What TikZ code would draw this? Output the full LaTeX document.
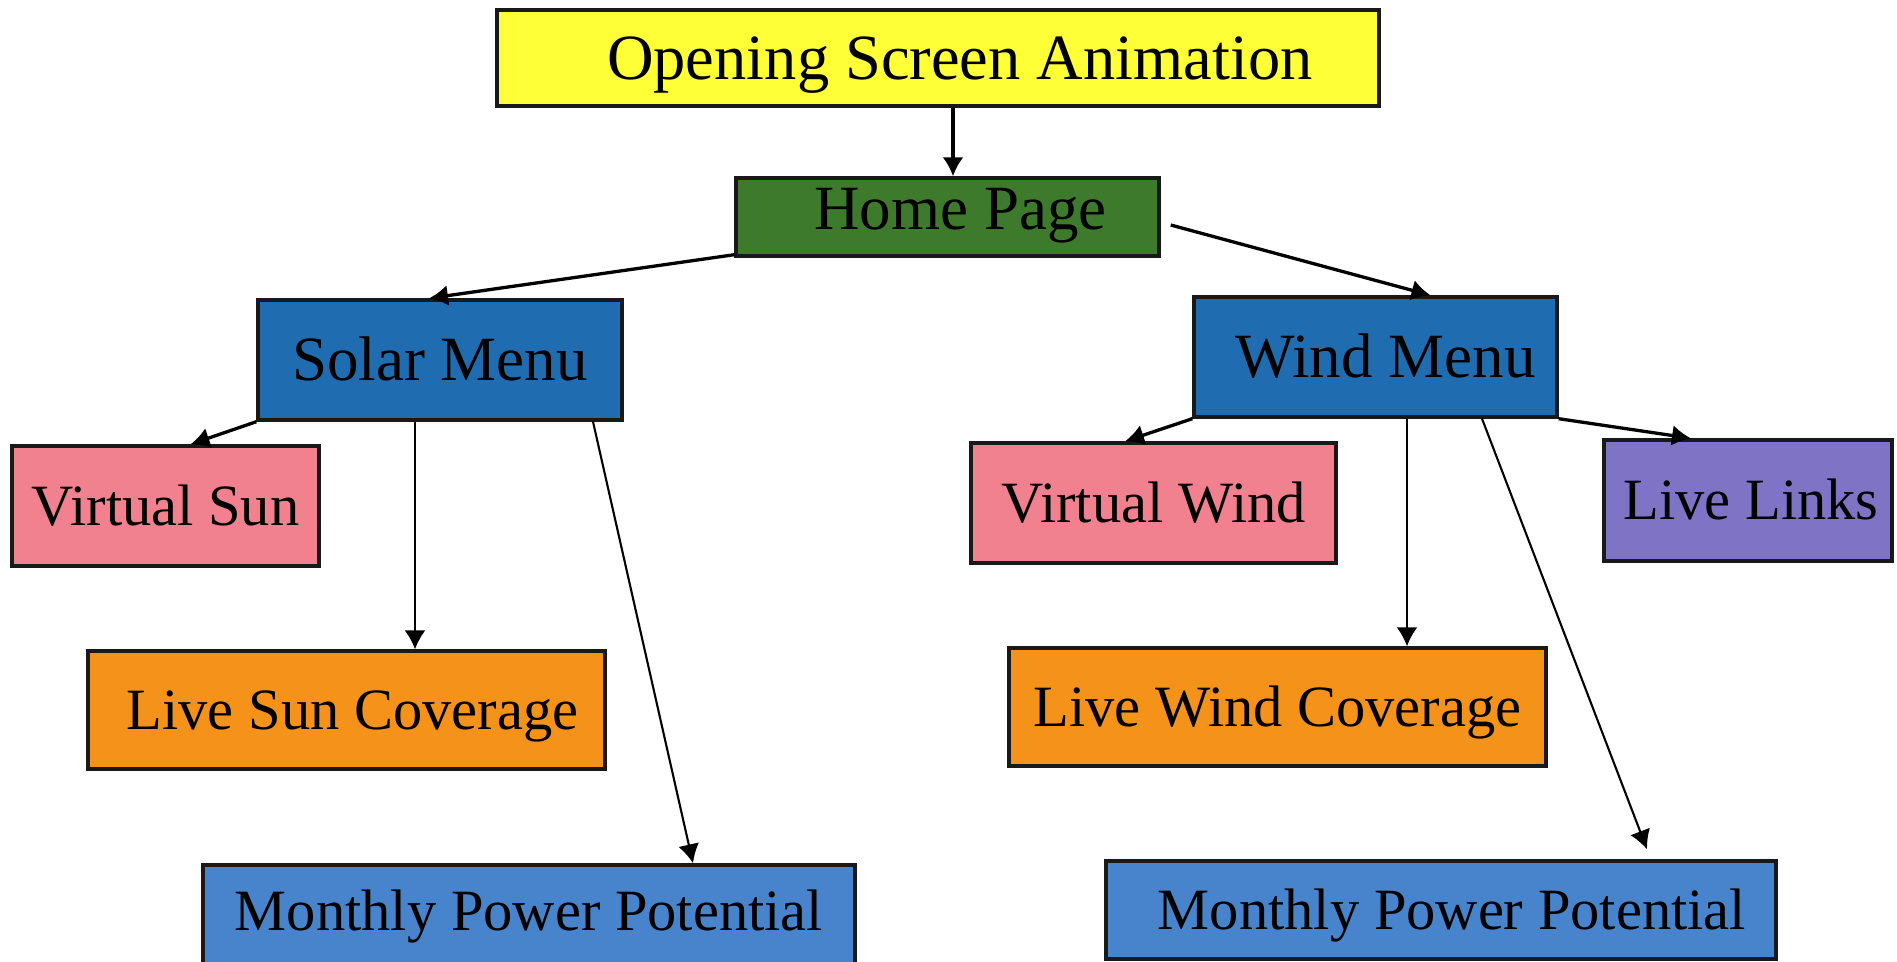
\documentclass[tikz,border=0pt]{standalone}
\usepackage{fontspec}
\setmainfont{Liberation Serif}
\usetikzlibrary{arrows.meta,calc}

\definecolor{opyellow}{RGB}{255,255,56}
\definecolor{homegreen}{RGB}{62,122,44}
\definecolor{menublue}{RGB}{31,109,176}
\definecolor{virtpink}{RGB}{241,129,143}
\definecolor{linkpurple}{RGB}{127,115,198}
\definecolor{liveorange}{RGB}{245,146,26}
\definecolor{powerblue}{RGB}{72,132,204}

\begin{document}
\begin{tikzpicture}[x=1pt,y=-1pt,
  box/.style={draw=black!90, line width=3.4pt, inner sep=0pt,
    font=\fontsize{63}{70}\selectfont, text height=41.7pt, text depth=0pt},
  leaf/.style={box, font=\fontsize{58.5}{64}\selectfont, text height=38.7pt},
  arr/.style={-{Latex[length=19pt,width=21pt]}, line width=3.3pt},
  thin arr/.style={-{Latex[length=19pt,width=21pt]}, line width=2.1pt}]

\useasboundingbox (0,0) rectangle (1897,961);
\clip (0,0) rectangle (1897,961);
\fill[white] (0,0) rectangle (1897,961);

% top of the hierarchy
\node[box, fill=opyellow, minimum width=882pt, minimum height=96pt,
  font=\fontsize{64.5}{70}\selectfont, text height=42.7pt] (op) at (938,58)
  {\kern44pt Opening Screen Animation};
\node[box, fill=homegreen, minimum width=423pt, minimum height=78pt] (home) at (947.5,217)
  {\kern26pt\raisebox{8pt}{Home Page}};

% menus
\node[box, fill=menublue, minimum width=364pt, minimum height=120pt] (solar) at (440,360)
  {Solar Menu};
\node[box, fill=menublue, minimum width=363pt, minimum height=120pt] (wind) at (1375.5,357)
  {\kern20pt Wind Menu};

% solar branch
\node[leaf, fill=virtpink, minimum width=307pt, minimum height=120pt] (vsun) at (165.5,506)
  {Virtual Sun};
\node[leaf, fill=liveorange, minimum width=517pt, minimum height=118pt] (lsun) at (346.5,710)
  {\kern12pt Live Sun Coverage};
\node[leaf, fill=powerblue, minimum width=652pt, minimum height=118pt] (mpl) at (529,924)
  {\raisebox{13pt}{Monthly Power Potential}};

% wind branch
\node[leaf, fill=virtpink, minimum width=365pt, minimum height=120pt] (vwind) at (1153.5,503)
  {Virtual Wind};
\node[leaf, fill=linkpurple, minimum width=288pt, minimum height=121pt] (links) at (1748,500.5)
  {\kern6pt Live Links};
\node[leaf, fill=liveorange, minimum width=537pt, minimum height=118pt] (lwind) at (1277.5,707)
  {Live Wind Coverage};
\node[leaf, fill=powerblue, minimum width=670pt, minimum height=98pt] (mpr) at (1441,910)
  {\kern22pt Monthly Power Potential};

% connectors
\coordinate (h1) at ([xshift=5.5pt]home.north);
\draw[arr] (h1 |- op.south) -- (h1);
\draw[arr] ([yshift=3pt]home.south west) -- ([xshift=-11pt]solar.north);
\draw[arr] ([xshift=10pt,yshift=-8pt]home.east) -- ([xshift=55pt]wind.north);

\draw[arr] (solar.south west) -- ([xshift=25pt]vsun.north);
\draw[thin arr] ([xshift=-25pt]solar.south) -- ([xshift=68.5pt]lsun.north);
\draw[thin arr] ([xshift=153pt]solar.south) -- ([xshift=164pt]mpl.north);

\draw[arr] (wind.south west) -- ([xshift=-28.5pt]vwind.north);
\draw[thin arr] ([xshift=31.5pt]wind.south) -- ([xshift=129.5pt]lwind.north);
\draw[thin arr] ([xshift=106.5pt]wind.south) -- ([xshift=206pt,yshift=10pt]mpr.north);
\draw[arr] (wind.south east) -- ([xshift=-57pt]links.north);
\end{tikzpicture}
\end{document}
